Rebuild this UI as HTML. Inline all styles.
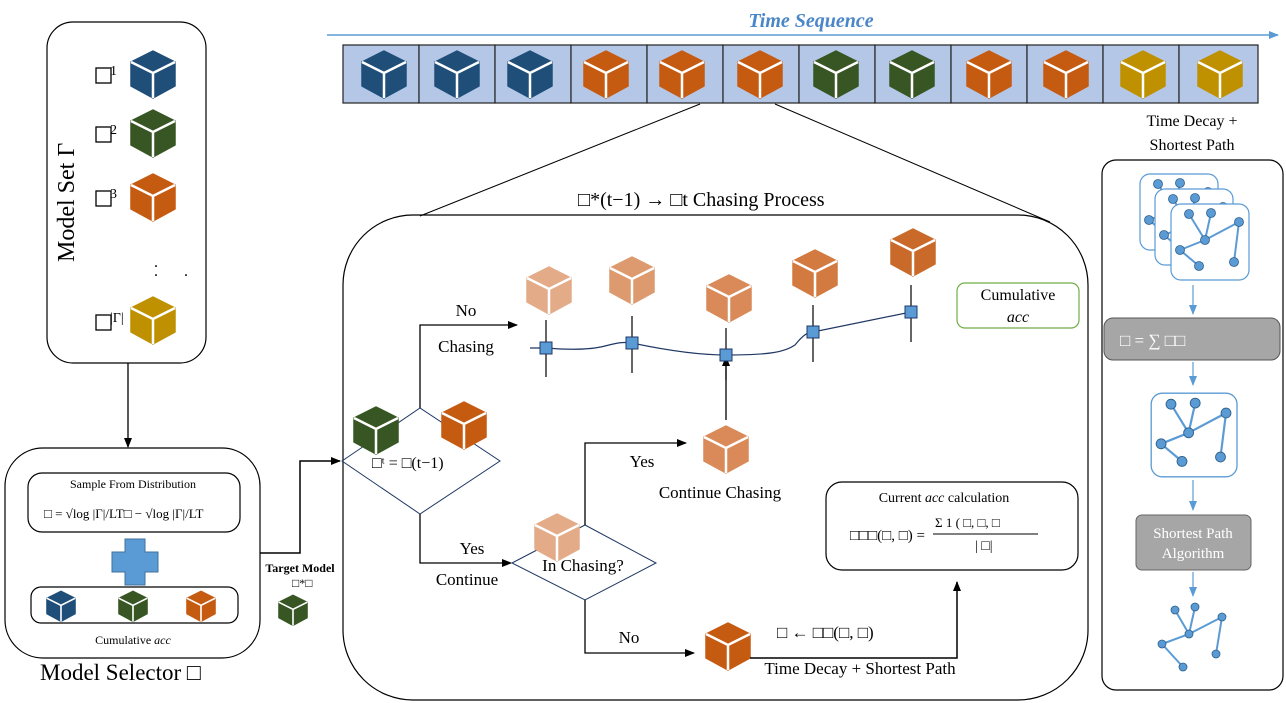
<!DOCTYPE html>
<html><head><meta charset="utf-8"><style>
body{margin:0;background:#fff}
svg{display:block;font-family:"Liberation Serif",serif}
</style></head><body>
<svg width="1286" height="703" viewBox="0 0 1286 703" xmlns="http://www.w3.org/2000/svg">
<defs>
<g id="cb"><path d="M0,-23 L22,-12 L22,12 L0,24 L-22,12 L-22,-12 Z" fill="currentColor" stroke="currentColor" stroke-width="1.5" stroke-linejoin="round"/><path d="M-22,-12 L0,-1 L22,-12 M0,-1 L0,24" stroke="#fff" stroke-width="2.5" fill="none"/></g>
<marker id="ah" markerWidth="10" markerHeight="8" refX="9" refY="4" orient="auto" markerUnits="userSpaceOnUse"><path d="M0,0 L10,4 L0,8 Z" fill="#000"/></marker>
<marker id="bh" markerWidth="10" markerHeight="8" refX="9" refY="4" orient="auto" markerUnits="userSpaceOnUse"><path d="M0,0 L10,4 L0,8 Z" fill="#5b9bd5"/></marker>
<g id="gr" stroke="#5b9bd5" fill="#5b9bd5"><rect x="-38" y="-38" width="78" height="76" rx="10" fill="#fff" stroke-width="1.2"/><g stroke-width="2"><line x1="-20" y1="-28" x2="-4" y2="-2"/><line x1="-4" y1="-2" x2="2" y2="-29"/><line x1="-4" y1="-2" x2="30" y2="-20"/><line x1="-4" y1="-2" x2="-29" y2="8"/><line x1="-29" y1="8" x2="-10" y2="24"/><line x1="30" y1="-20" x2="25" y2="20"/></g><g stroke="#2e5f8a" stroke-width="0.8"><circle cx="-20" cy="-28" r="4.5"/><circle cx="2" cy="-29" r="4.5"/><circle cx="-4" cy="-2" r="4.5"/><circle cx="30" cy="-20" r="4.5"/><circle cx="-29" cy="8" r="4.5"/><circle cx="-10" cy="24" r="4.5"/><circle cx="25" cy="20" r="4.5"/></g></g>
</defs>

<text x="811" y="27" text-anchor="middle" font-size="20" font-weight="bold" font-style="italic" fill="#4a86c8">Time Sequence</text>
<line x1="327" y1="35" x2="1278" y2="35" stroke="#5b9bd5" stroke-width="1.5" marker-end="url(#bh)"/>
<g stroke="#222" stroke-width="1.2" fill="#b4c7e7">
<rect x="343" y="45" width="76" height="58"/><rect x="419" y="45" width="76" height="58"/><rect x="495" y="45" width="76" height="58"/><rect x="571" y="45" width="76" height="58"/><rect x="647" y="45" width="76" height="58"/><rect x="723" y="45" width="76" height="58"/><rect x="799" y="45" width="76" height="58"/><rect x="875" y="45" width="76" height="58"/><rect x="951" y="45" width="76" height="58"/><rect x="1027" y="45" width="76" height="58"/><rect x="1103" y="45" width="76" height="58"/><rect x="1179" y="45" width="79" height="58"/>
</g>
<use href="#cb" x="384" y="74" style="color:#1f4e79"/><use href="#cb" x="457" y="74" style="color:#1f4e79"/><use href="#cb" x="530" y="74" style="color:#1f4e79"/>
<use href="#cb" x="606" y="74" style="color:#c55a11"/><use href="#cb" x="682" y="74" style="color:#c55a11"/><use href="#cb" x="760" y="74" style="color:#c55a11"/>
<use href="#cb" x="836" y="74" style="color:#375623"/><use href="#cb" x="912" y="74" style="color:#375623"/>
<use href="#cb" x="989" y="74" style="color:#c55a11"/><use href="#cb" x="1066" y="74" style="color:#c55a11"/>
<use href="#cb" x="1143" y="74" style="color:#bf9000"/><use href="#cb" x="1220" y="74" style="color:#bf9000"/>

<line x1="700" y1="104" x2="420" y2="216" stroke="#000" stroke-width="1"/>
<line x1="775" y1="104" x2="1050" y2="222" stroke="#000" stroke-width="1"/>

<rect x="47" y="22" width="159" height="341" rx="26" fill="#fff" stroke="#000" stroke-width="1.2"/>
<text transform="translate(74,262) rotate(-90)" font-size="24">Model  Set  Γ</text>
<g font-size="14"><rect x="96" y="68" width="15" height="15" fill="none" stroke="#000" stroke-width="1.3"/><text x="110" y="75">1</text>
<rect x="96" y="127" width="15" height="15" fill="none" stroke="#000" stroke-width="1.3"/><text x="110" y="134">2</text>
<rect x="96" y="191" width="15" height="15" fill="none" stroke="#000" stroke-width="1.3"/><text x="110" y="198">3</text>
<rect x="96" y="315" width="15" height="15" fill="none" stroke="#000" stroke-width="1.3"/><text x="110" y="322">|Γ|</text></g>
<use href="#cb" x="153" y="74" style="color:#1f4e79"/><use href="#cb" x="153" y="133" style="color:#375623"/><use href="#cb" x="153" y="197" style="color:#c55a11"/><use href="#cb" x="153" y="320" style="color:#bf9000"/>
<text x="154" y="267" font-size="16">.</text><text x="154" y="276" font-size="16">.</text><text x="184" y="276" font-size="16">.</text>
<line x1="128" y1="363" x2="128" y2="447" stroke="#000" stroke-width="1.3" marker-end="url(#ah)"/>

<rect x="5" y="448" width="255" height="210" rx="38" fill="#fff" stroke="#000" stroke-width="1.2"/>
<rect x="28" y="473" width="212" height="59" rx="14" fill="#fff" stroke="#000" stroke-width="1.2"/>
<text x="133" y="488" text-anchor="middle" font-size="12">Sample From Distribution</text>
<text x="44" y="518" font-size="13">□ =  √log |Γ|/LT□ − √log |Γ|/LT</text>
<path d="M125,539 h20 v13 h13 v20 h-13 v13 h-20 v-13 h-13 v-20 h13 Z" fill="#5b9bd5" stroke="#41719c"/>
<rect x="31" y="587" width="207" height="36" rx="10" fill="#fff" stroke="#000" stroke-width="1.2"/>
<g transform="translate(61,606) scale(0.65)"><use href="#cb" style="color:#1f4e79"/></g>
<g transform="translate(133,606) scale(0.65)"><use href="#cb" style="color:#375623"/></g>
<g transform="translate(201,606) scale(0.65)"><use href="#cb" style="color:#c55a11"/></g>
<text x="133" y="644" text-anchor="middle" font-size="12">Cumulative <tspan font-style="italic">acc</tspan></text>
<text x="40" y="680" font-size="23">Model Selector □</text>

<polyline points="260,553 300,553 300,461 340,461" fill="none" stroke="#000" stroke-width="1.5" marker-end="url(#ah)"/>
<text x="300" y="572" text-anchor="middle" font-size="12" font-weight="bold">Target Model</text>
<text x="292" y="587" font-size="12">□*□</text>
<g transform="translate(293,610) scale(0.65)"><use href="#cb" style="color:#375623"/></g>

<text x="578" y="206" font-size="20">□*(t−1) → □t  Chasing Process</text>
<rect x="343" y="215" width="745" height="485" rx="70" fill="none" stroke="#000" stroke-width="1.2"/>

<polygon points="342,461 420,408 500,461 420,514" fill="none" stroke="#1f3864" stroke-width="1"/>
<use href="#cb" x="376" y="430" style="color:#375623"/><use href="#cb" x="464" y="425" style="color:#c55a11"/>
<text x="372" y="468" font-size="16">□ᵗ  =  □(t−1)</text>

<polyline points="420,408 420,325 517,325" fill="none" stroke="#000" stroke-width="1.3" marker-end="url(#ah)"/>
<text x="466" y="316" text-anchor="middle" font-size="17">No</text>
<text x="466" y="352" text-anchor="middle" font-size="17">Chasing</text>

<polyline points="420,514 420,563 511,563" fill="none" stroke="#000" stroke-width="1.3" marker-end="url(#ah)"/>
<text x="472" y="554" text-anchor="middle" font-size="17">Yes</text>
<text x="467" y="585" text-anchor="middle" font-size="17">Continue</text>

<polygon points="512,563 585,525 656,563 585,600" fill="none" stroke="#1f3864" stroke-width="1"/>
<use href="#cb" x="557" y="537" style="color:#e3ab88"/>
<text x="583" y="571" text-anchor="middle" font-size="17">In Chasing?</text>

<polyline points="585,525 585,443 686,443" fill="none" stroke="#000" stroke-width="1.3" marker-end="url(#ah)"/>
<text x="642" y="467" text-anchor="middle" font-size="17">Yes</text>
<use href="#cb" x="726" y="449" style="color:#d98a58"/>
<text x="720" y="498" text-anchor="middle" font-size="17">Continue Chasing</text>
<line x1="726" y1="420" x2="726" y2="357" stroke="#000" stroke-width="1.3" marker-end="url(#ah)"/>

<polyline points="585,600 585,653 694,653" fill="none" stroke="#000" stroke-width="1.3" marker-end="url(#ah)"/>
<text x="629" y="643" text-anchor="middle" font-size="17">No</text>
<use href="#cb" x="728" y="646" style="color:#c55a11"/>
<text x="777" y="638" font-size="17">□ ← □□(□, □)</text>
<polyline points="750,658 957,658 957,582" fill="none" stroke="#000" stroke-width="1.5" marker-end="url(#ah)"/>
<text x="860" y="674" text-anchor="middle" font-size="17">Time Decay + Shortest Path</text>

<g stroke="#000" stroke-width="1.2"><line x1="546" y1="320" x2="546" y2="377"/><line x1="632" y1="316" x2="632" y2="373"/><line x1="726" y1="328" x2="726" y2="380"/><line x1="813" y1="305" x2="813" y2="362"/><line x1="911" y1="285" x2="911" y2="342"/></g>
<path d="M530,348 L546,348 C570,350 590,350 605,346 C620,342 625,342 632,343 C665,350 700,355 726,355 C770,355 785,352 795,345 C803,335 808,332 813,332 L911,312" fill="none" stroke="#1f3864" stroke-width="1.2"/>
<g fill="#5b9bd5" stroke="#1f3864"><rect x="540" y="342" width="12" height="12"/><rect x="626" y="337" width="12" height="12"/><rect x="720" y="349" width="12" height="12"/><rect x="807" y="326" width="12" height="12"/><rect x="905" y="306" width="12" height="12"/></g>
<use href="#cb" x="549" y="290" style="color:#e3ab88"/><use href="#cb" x="632" y="280" style="color:#dc9a6e"/><use href="#cb" x="729" y="298" style="color:#d98a58"/><use href="#cb" x="815" y="273" style="color:#d27a40"/><use href="#cb" x="913" y="252" style="color:#c96a2a"/>

<rect x="957" y="283" width="122" height="45" rx="8" fill="#fff" stroke="#70ad47" stroke-width="1.2"/>
<text x="1018" y="300" text-anchor="middle" font-size="16">Cumulative</text>
<text x="1018" y="322" text-anchor="middle" font-size="16" font-style="italic">acc</text>

<rect x="826" y="482" width="252" height="88" rx="16" fill="#fff" stroke="#000" stroke-width="1.2"/>
<text x="944" y="502" text-anchor="middle" font-size="14">Current <tspan font-style="italic">acc</tspan> calculation</text>
<text x="850" y="540" font-size="15">□□□(□, □) =</text>
<text x="935" y="527" font-size="13">Σ 1 ( □, □, □</text>
<line x1="933" y1="534" x2="1038" y2="534" stroke="#000"/>
<text x="975" y="550" font-size="14">| □|</text>

<text x="1192" y="126" text-anchor="middle" font-size="16">Time Decay +</text>
<text x="1192" y="150" text-anchor="middle" font-size="16">Shortest Path</text>
<rect x="1102" y="160" width="181" height="530" rx="14" fill="#fff" stroke="#000" stroke-width="1.2"/>
<use href="#gr" x="1178" y="212"/><use href="#gr" x="1193" y="227"/><use href="#gr" x="1209" y="242"/>
<line x1="1193" y1="285" x2="1193" y2="314" stroke="#5b9bd5" stroke-width="1.2" marker-end="url(#bh)"/>
<rect x="1104" y="318" width="176" height="42" rx="9" fill="#a6a6a6" stroke="#555"/>
<text x="1120" y="346" font-size="17" fill="#fff">□ =  ∑  □□</text>
<line x1="1193" y1="362" x2="1193" y2="385" stroke="#5b9bd5" stroke-width="1.2" marker-end="url(#bh)"/>
<g transform="translate(1193,435) scale(1.1)"><use href="#gr"/></g>
<line x1="1193" y1="480" x2="1193" y2="510" stroke="#5b9bd5" stroke-width="1.2" marker-end="url(#bh)"/>
<rect x="1136" y="515" width="115" height="55" rx="6" fill="#a6a6a6" stroke="#666"/>
<text x="1193" y="538" text-anchor="middle" font-size="15" fill="#fff">Shortest Path</text>
<text x="1193" y="558" text-anchor="middle" font-size="15" fill="#fff">Algorithm</text>
<line x1="1193" y1="572" x2="1193" y2="596" stroke="#5b9bd5" stroke-width="1.2" marker-end="url(#bh)"/>
<g stroke="#5b9bd5" fill="#5b9bd5"><g stroke-width="2"><line x1="1175" y1="610" x2="1189" y2="634"/><line x1="1189" y1="634" x2="1195" y2="607"/><line x1="1189" y1="634" x2="1222" y2="617"/><line x1="1189" y1="634" x2="1162" y2="644"/><line x1="1162" y1="644" x2="1183" y2="667"/><line x1="1222" y1="617" x2="1216" y2="654"/></g>
<g stroke="#2e5f8a" stroke-width="0.8"><circle cx="1175" cy="610" r="4"/><circle cx="1195" cy="607" r="4"/><circle cx="1189" cy="634" r="4"/><circle cx="1222" cy="617" r="4"/><circle cx="1162" cy="644" r="4"/><circle cx="1183" cy="667" r="4"/><circle cx="1216" cy="654" r="4"/></g></g>
</svg>
</body></html>
